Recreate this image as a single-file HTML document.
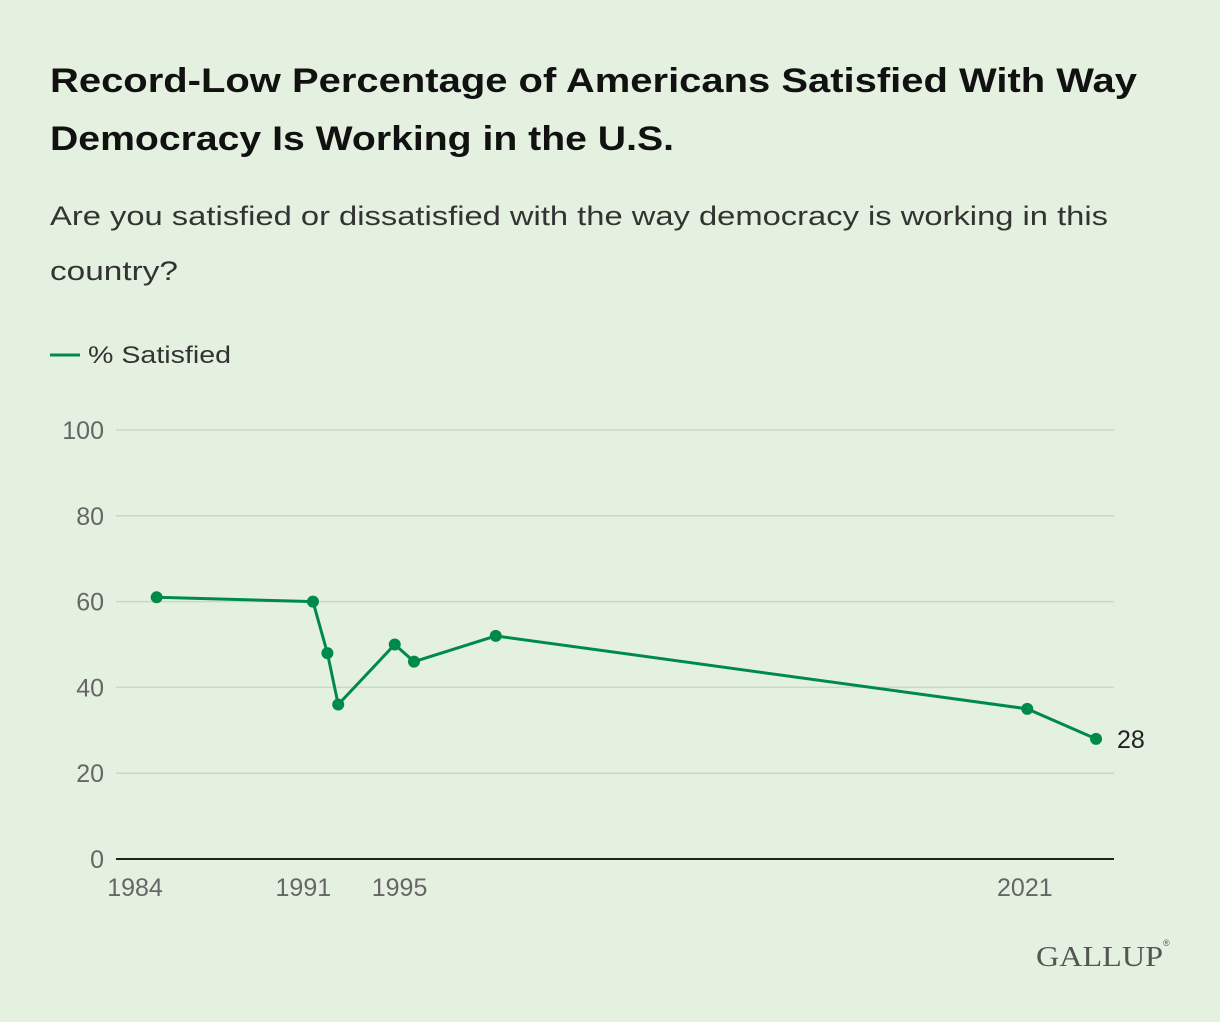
<!DOCTYPE html>
<html><head><meta charset="utf-8"><style>
body{margin:0;width:1220px;height:1022px;background:#e5f1e0;font-family:"Liberation Sans",sans-serif;overflow:hidden}
</style></head><body>
<svg width="1220" height="1022" style="position:absolute;left:0;top:0">
<text x="50" y="92" font-size="34" font-weight="bold" fill="#111" textLength="1087" lengthAdjust="spacingAndGlyphs">Record-Low Percentage of Americans Satisfied With Way</text>
<text x="50" y="150" font-size="34" font-weight="bold" fill="#111" textLength="624" lengthAdjust="spacingAndGlyphs">Democracy Is Working in the U.S.</text>
<text x="50" y="225" font-size="27" fill="#333" textLength="1058" lengthAdjust="spacingAndGlyphs">Are you satisfied or dissatisfied with the way democracy is working in this</text>
<text x="50" y="280" font-size="27" fill="#333" textLength="128" lengthAdjust="spacingAndGlyphs">country?</text>
<line x1="50" y1="355" x2="80" y2="355" stroke="#008a4a" stroke-width="3"/>
<text x="88" y="363" font-size="24" fill="#333" textLength="143" lengthAdjust="spacingAndGlyphs">% Satisfied</text>
<g id="grid"></g><g id="plot"></g>
<text x="1036" y="966" font-size="29" fill="#555" font-family="Liberation Serif,serif" textLength="127" lengthAdjust="spacingAndGlyphs">GALLUP</text>
<text x="1163" y="946" font-size="9" fill="#555">®</text>
</svg>
<script>
const years=[1984.9,1991.4,1992.0,1992.45,1994.8,1995.6,1999.0,2021.1,2023.96];
const values=[61,60,48,36,50,46,52,35,28];
const yTicks=[0,20,40,60,80,100];
const xTicks=[1984,1991,1995,2021];
const NS="http://www.w3.org/2000/svg";
const X=y=>135+(y-1984)*24.05;
const Y=v=>859-v*4.29;
const grid=document.getElementById('grid'),plot=document.getElementById('plot');
function mk(tag,attrs,parent){const e=document.createElementNS(NS,tag);for(const k in attrs)e.setAttribute(k,attrs[k]);parent.appendChild(e);return e;}
yTicks.forEach(t=>{
  const l=mk('line',{x1:116,x2:1114,y1:Y(t),y2:Y(t),stroke:t===0?'#222':'#c9d8c4','stroke-width':t===0?2:1.5},grid);
  
  
  const tx=mk('text',{x:104,y:Y(t)+9,'text-anchor':'end','font-size':25,fill:'#666'},grid);
  tx.textContent=t;
  
  
});
xTicks.forEach(t=>{
  const tx=mk('text',{x:X(t),y:896,'text-anchor':'middle','font-size':25,fill:'#666'},grid);
  tx.textContent=t;
  
  
});
const p=mk('polyline',{points:years.map((y,i)=>X(y)+','+Y(values[i])).join(' '),fill:'none',stroke:'#008a4a','stroke-width':3},plot);


years.forEach((y,i)=>{
  const c=mk('circle',{cx:X(y),cy:Y(values[i]),r:6,fill:'#008a4a'},plot);
  
  
});
const n=years.length-1;
const lab=mk('text',{x:X(years[n])+21,y:Y(values[n])+9,'font-size':25,fill:'#222'},plot);
lab.textContent=values[n];


</script>
</body></html>
